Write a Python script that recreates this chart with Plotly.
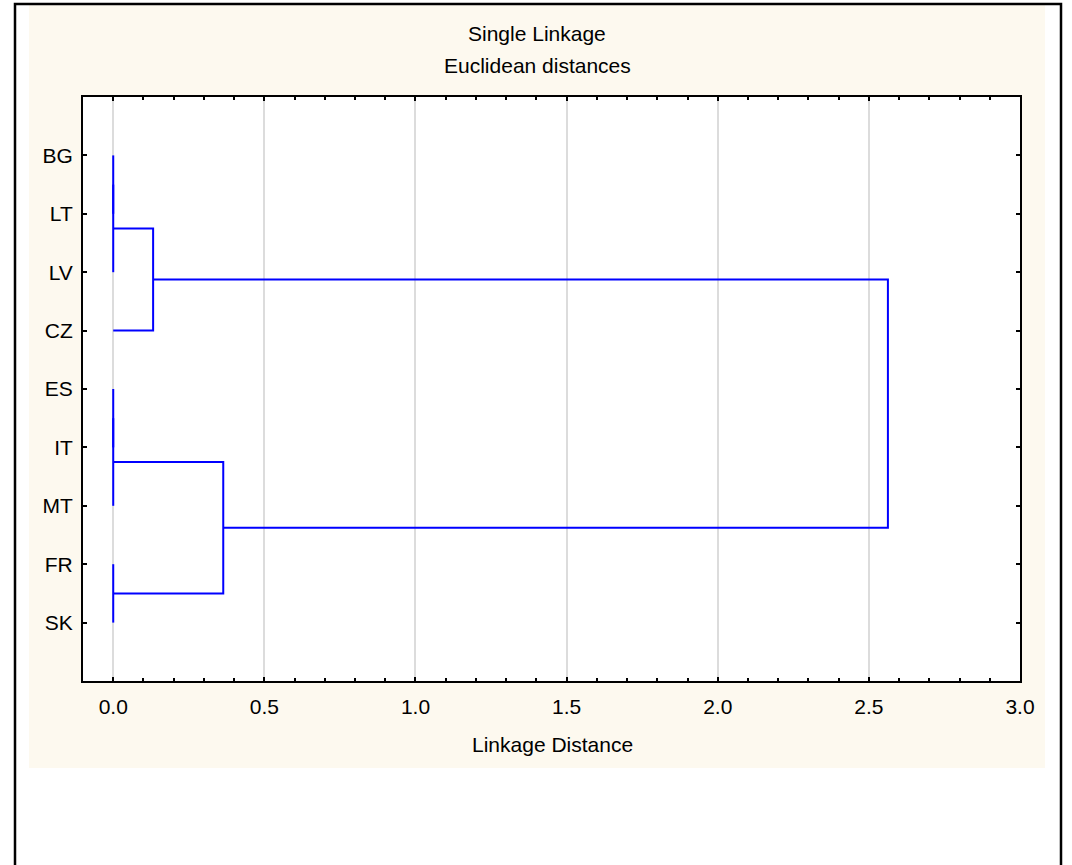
import plotly.graph_objects as go

# leaves, top to bottom
leaves = ["BG", "LT", "LV", "CZ", "ES", "IT", "MT", "FR", "SK"]

# single-linkage merges: (node a, node b, distance); new nodes get ids 9, 10, ...
merge_a = [0, 9, 10, 4, 12, 7, 13, 11]
merge_b = [1, 2, 3, 5, 6, 8, 14, 15]
merge_dist = [0.0, 0.0, 0.132, 0.0, 0.0, 0.0, 0.364, 2.563]

title_1 = "Single Linkage"
title_2 = "Euclidean distances"
x_title = "Linkage Distance"

# compute node positions (y = leaf slot, x = height)
pos = {i: (0.0, i + 1) for i in range(len(leaves))}
xs, ys = [], []
for k, (a, b, d) in enumerate(zip(merge_a, merge_b, merge_dist)):
    ha, ya = pos[a]
    hb, yb = pos[b]
    xs += [ha, d, d, hb, None]
    ys += [ya, ya, yb, yb, None]
    pos[len(leaves) + k] = (d, (ya + yb) / 2)

W, H = 1072, 865
L, R, T, B = 83, 1020, 97, 681
pw, ph = R - L, B - T


def px(x):
    return (x - L) / pw


def py(y):
    return (B - y) / ph


font = dict(family="Arial, Liberation Sans, sans-serif", size=21, color="black")

fig = go.Figure(go.Scatter(x=xs, y=ys, mode="lines",
                           line=dict(color="#0000ff", width=2),
                           hoverinfo="skip", showlegend=False))

fig.update_xaxes(range=[-0.1, 3.0], dtick=0.5, tick0=0, tickformat=".1f",
                 showgrid=True, gridcolor="#dcdcdc", gridwidth=2, zeroline=False,
                 showline=True, linecolor="black", linewidth=2, mirror="allticks",
                 ticks="inside", ticklen=4, tickwidth=2, tickcolor="black",
                 minor=dict(dtick=0.1, ticks="inside", ticklen=3, tickwidth=1.5,
                            tickcolor="black", showgrid=False),
                 tickfont=font, ticklabelstandoff=6)
fig.update_yaxes(range=[10, 0], tickvals=list(range(1, len(leaves) + 1)), ticktext=leaves,
                 showgrid=False, zeroline=False,
                 showline=True, linecolor="black", linewidth=2, mirror="allticks",
                 ticks="inside", ticklen=4, tickwidth=2, tickcolor="black",
                 tickfont=font, ticklabelstandoff=4)

shapes = [
    # beige panel
    dict(type="rect", xref="paper", yref="paper", layer="below",
         x0=px(29), x1=px(1045), y0=py(768), y1=py(5),
         fillcolor="#fdf9ef", line=dict(width=0)),
    # white plot area
    dict(type="rect", xref="paper", yref="paper", layer="below",
         x0=0, x1=1, y0=0, y1=1, fillcolor="white", line=dict(width=0)),
    # outer frame
    dict(type="rect", xref="paper", yref="paper", layer="above",
         x0=px(15), x1=px(1061), y0=py(880), y1=py(4),
         line=dict(color="black", width=2.5)),
]

annotations = [
    dict(text=title_1, x=px(537), y=py(33), xref="paper", yref="paper",
         showarrow=False, font=font, xanchor="center", yanchor="middle"),
    dict(text=title_2, x=px(537), y=py(66), xref="paper", yref="paper",
         showarrow=False, font=font, xanchor="center", yanchor="middle"),
    dict(text=x_title, x=px(552), y=py(744), xref="paper", yref="paper",
         showarrow=False, font=font, xanchor="center", yanchor="middle"),
]

fig.update_layout(width=W, height=H,
                  margin=dict(l=L, r=W - R, t=T, b=H - B, pad=0),
                  paper_bgcolor="white", plot_bgcolor="white",
                  shapes=shapes, annotations=annotations, font=font)

# drop the default 8px page margin so the figure sits at the window origin
fig.write_html("out.html", config={"displayModeBar": False},
               post_script="document.body.style.margin='0';")
